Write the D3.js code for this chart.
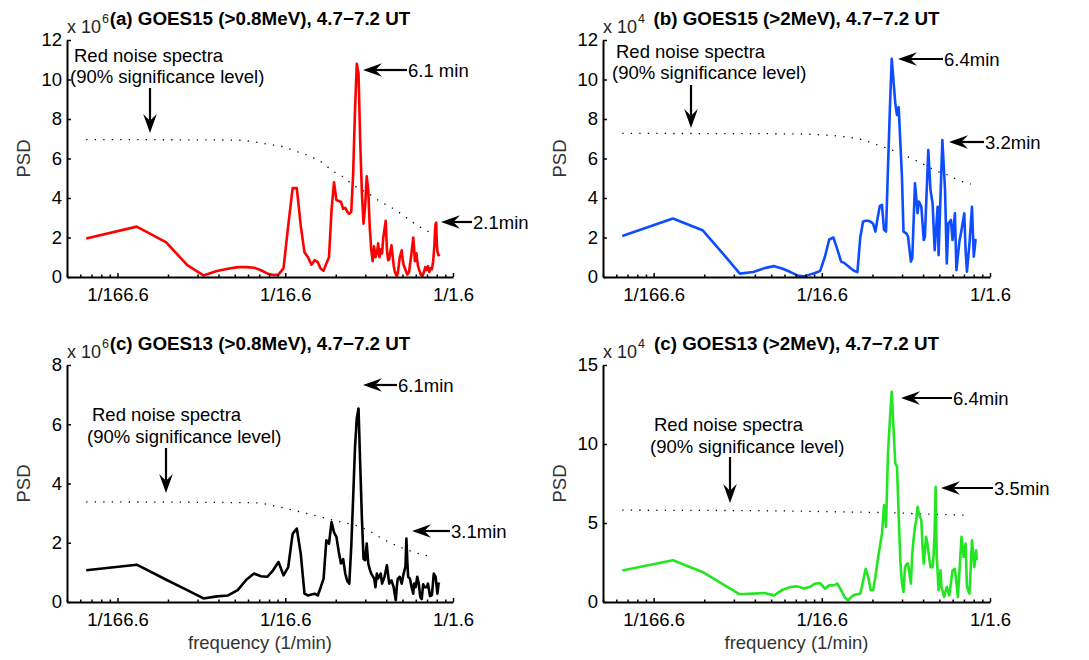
<!DOCTYPE html>
<html>
<head>
<meta charset="utf-8">
<script src="https://cdn.jsdelivr.net/npm/d3@7"></script>
<style>
body { margin: 0; background: #fff; }
text { font-family: "Liberation Sans", Arial, Helvetica, sans-serif; }
</style>
</head>
<body>
<svg id="chart" width="1089" height="660"></svg>
<script>
// frequency grid: harmonic k -> k / (256 * 60 s)  (1-min data, 256-pt FFT)
const DF = 1 / (256 * 60);

const xTickVals = [1e-4, 1e-3, 1e-2];
const xTickLabels = ["1/166.6", "1/16.6", "1/1.6"];

// (a) GOES15 >0.8MeV, x 10^6
const kA = [1, 2, 3, 4, 5, 6, 7, 8, 9, 10,
  11, 12, 13, 14, 15, 16, 17, 18, 19, 20,
  21, 22, 23, 24, 25, 26, 27, 28, 29, 30,
  31, 32, 33, 34, 35, 36, 37, 38, 39, 40,
  41, 42, 43, 44, 45, 46, 47, 48, 49, 50,
  51, 52, 53, 54, 55, 56, 57, 58, 59, 61,
  62, 63, 64, 65, 66, 67, 68, 69, 70, 71,
  72, 73, 74, 76, 77, 78, 79, 80, 82, 84,
  86, 88, 89, 90, 91, 92, 93, 94, 95, 97,
  99, 101, 103, 105, 107, 109, 111, 113, 115, 117,
  119, 120, 121, 122, 123, 124, 126, 128];
const psdA = [1.95, 2.55, 1.75, 0.6, 0.08, 0.3, 0.42, 0.5, 0.5, 0.47,
  0.34, 0.18, 0.1, 0.12, 0.45, 2.6, 4.5, 4.5, 2.6, 1.25,
  1.0, 0.62, 0.85, 0.75, 0.42, 0.32, 0.68, 1.0, 3.4, 4.8,
  3.9, 3.85, 3.8, 3.45, 3.5, 3.3, 3.2, 3.3, 5.2, 8.4,
  10.8, 10.3, 6.8, 4.2, 2.7, 3.6, 5.1, 4.4, 2.5, 1.4,
  0.8, 1.55, 1.0, 1.2, 1.7, 1.0, 1.4, 1.2, 2.0, 2.85,
  1.4, 0.85, 0.9, 1.3, 1.6, 1.1, 0.6, 0.3, 0.15, 0.05,
  0.2, 0.6, 1.0, 1.35, 0.9, 0.6, 0.5, 0.35, 0.12, 0.25,
  0.9, 1.6, 2.0, 1.5, 0.8, 0.9, 1.2, 0.85, 0.55, 0.3,
  0.1, 0.05, 0.25, 0.5, 0.35, 0.55, 0.25, 0.45, 0.4, 0.8,
  1.6, 2.3, 2.7, 2.75, 1.7, 1.3, 1.1, 1.15];
const rnKA = [1, 8, 10, 12, 15, 17, 20, 23, 26, 29, 34, 38, 44, 50, 57, 65, 75, 85, 97, 114];
const rnA = [6.96, 6.93, 6.84, 6.73, 6.59, 6.42, 6.22, 6.0, 5.75, 5.41, 5.07, 4.73, 4.39, 4.14, 3.8, 3.55, 3.21, 2.87, 2.54, 2.23];

// (b) GOES15 >2MeV, x 10^4
const kB = [1, 2, 3, 4, 5, 6, 7, 8, 9, 10,
  11, 12, 13, 14, 15, 16, 17, 18, 19, 20,
  21, 22, 23, 24, 25, 26, 27, 28, 29, 30,
  31, 32, 33, 34, 35, 36, 37, 38, 39, 40,
  42, 43, 44, 46, 47, 49, 50, 52, 53, 55,
  57, 58, 60, 62, 63, 66, 68, 70, 72, 75,
  76, 80, 83, 85, 87, 90, 92, 95, 97, 101,
  104, 108, 110, 112, 116, 120, 123, 126, 128];
const psdB = [2.08, 2.96, 2.37, 1.15, 0.17, 0.25, 0.45, 0.55, 0.42, 0.25,
  0.08, 0.03, 0.12, 0.2, 0.3, 1.0, 1.9, 2.0, 1.4, 0.78,
  0.7, 0.55, 0.42, 0.3, 0.25, 2.0, 2.8, 2.85, 2.85, 2.8,
  2.7, 2.3, 3.0, 3.6, 3.65, 2.4, 2.3, 5.5, 8.5, 11.05,
  8.8, 8.2, 8.6, 5.1, 2.3, 2.2, 2.05, 0.78, 0.95, 4.74,
  3.23, 3.82, 3.56, 1.87, 2.04, 6.43, 4.4, 3.73, 1.36, 3.56,
  1.11, 6.93, 4.4, 0.69, 2.72, 2.89, 1.87, 3.22, 0.35, 1.79,
  2.38, 3.22, 1.36, 0.27, 1.7, 3.56, 1.03, 1.87, 1.87];
const rnKB = [1, 10, 15, 21, 28, 33, 38, 44, 50, 58, 66, 76, 87, 100, 118];
const rnB = [7.27, 7.25, 7.2, 7.1, 6.9, 6.68, 6.5, 6.29, 6.08, 5.83, 5.58, 5.32, 5.15, 4.9, 4.7];

// (c) GOES13 >0.8MeV, x 10^6
const kC = [1, 2, 3, 4, 5, 6, 7, 8, 9, 10,
  11, 12, 13, 14, 15, 16, 17, 18, 19, 20,
  21, 22, 23, 24, 25, 26, 27, 28, 29, 30,
  31, 32, 33, 34, 35, 36, 37, 38, 39, 40,
  41, 42, 43, 44, 45, 46, 47, 48, 49, 50,
  52, 53, 54, 55, 57, 58, 60, 62, 64, 66,
  68, 70, 71, 72, 74, 76, 78, 80, 81, 82,
  83, 85, 87, 89, 90, 92, 94, 96, 98, 100,
  102, 104, 107, 109, 112, 115, 118, 121, 124, 126,
  128];
const psdC = [1.07, 1.26, 0.75, 0.4, 0.12, 0.19, 0.22, 0.4, 0.75, 0.96,
  0.87, 0.85, 1.07, 1.35, 0.9, 1.18, 2.3, 2.48, 1.63, 0.28,
  0.22, 0.25, 0.28, 0.22, 0.5, 0.79, 2.08, 1.97, 2.7, 2.35,
  2.2, 1.7, 1.3, 1.45, 0.96, 0.7, 0.62, 1.86, 3.5, 5.2,
  6.2, 6.53, 4.6, 2.8, 1.45, 1.41, 1.97, 1.3, 1.1, 0.96,
  0.8, 0.5, 0.96, 0.8, 0.96, 0.62, 0.85, 1.24, 0.62, 0.73,
  0.5, 0.06, 0.5, 0.79, 0.85, 0.62, 0.96, 1.2, 2.14, 1.4,
  0.85, 0.79, 0.5, 0.28, 0.62, 0.5, 0.85, 0.62, 0.17, 0.1,
  0.6, 0.5, 0.5, 0.62, 0.2, 0.23, 0.96, 0.85, 0.28, 0.62,
  0.6];
const rnKC = [1, 10, 14, 19, 25, 33, 40, 48, 58, 74, 89, 116];
const rnC = [3.38, 3.35, 3.21, 3.04, 2.87, 2.7, 2.59, 2.42, 2.14, 1.86, 1.69, 1.52];

// (c) GOES13 >2MeV, x 10^4
const kD = [1, 2, 3, 4, 5, 6, 7, 8, 9, 10,
  11, 12, 13, 14, 15, 16, 17, 18, 19, 20,
  21, 22, 23, 24, 25, 26, 27, 28, 29, 30,
  31, 32, 33, 34, 35, 36, 37, 38, 39, 40,
  41, 42, 43, 44, 45, 46, 47, 48, 49, 50,
  51, 52, 53, 54, 55, 56, 57, 58, 60, 61,
  62, 63, 64, 65, 66, 67, 68, 70, 71, 72,
  73, 74, 76, 78, 79, 82, 85, 88, 92, 95,
  99, 104, 107, 110, 112, 116, 120, 124, 127, 128];
const psdD = [2.0, 2.64, 1.9, 1.1, 0.49, 0.53, 0.57, 0.42, 0.78, 0.95,
  0.99, 0.85, 0.95, 1.16, 1.2, 0.85, 1.05, 1.05, 1.16, 0.75,
  0.3, 0.1, 0.32, 0.45, 0.49, 0.53, 1.3, 2.1, 1.58, 0.74,
  0.74, 1.6, 2.64, 3.5, 4.33, 6.13, 4.75, 9.4, 11.5, 13.3,
  11.0, 8.77, 8.56, 5.5, 2.64, 1.2, 0.63, 2.2, 2.4, 2.43,
  1.8, 1.16, 3.06, 4.0, 4.75, 5.2, 6.02, 5.6, 5.18, 3.5,
  2.43, 3.2, 4.12, 3.8, 3.27, 2.7, 2.2, 2.2, 3.0, 4.5,
  7.29, 3.0, 0.74, 2.0, 0.95, 0.32, 0.95, 0.42, 2.0, 2.1,
  0.32, 4.12, 2.85, 3.7, 0.95, 0.53, 3.9, 2.2, 3.27, 2.64];
const rnKD = [1, 8, 21, 42, 66, 118];
const rnD = [5.81, 5.77, 5.7, 5.64, 5.56, 5.49];

const FONT = 18.5;

// annotation positions are px inside each plot box
const panels = [
  {x0: 67, y0: 40, w: 386, h: 237, yMax: 12, yTicks: [0, 2, 4, 6, 8, 10, 12], exp: "6",
   color: "#ff0000", title: "(a) GOES15 (>0.8MeV), 4.7\u22127.2 UT",
   k: kA, psd: psdA, rnK: rnKA, rn: rnA, xlabel: false,
   rnText: [[7, 22], [3, 43]], down: [83, 48, 93],
   arrows: [[296, 30, 44, "6.1 min"], [374, 182, 31, "2.1min"]]},
  {x0: 603, y0: 40, w: 387, h: 237, yMax: 12, yTicks: [0, 2, 4, 6, 8, 10, 12], exp: "4",
   color: "#0d4dff", title: "(b) GOES15 (>2MeV), 4.7\u22127.2 UT",
   k: kB, psd: psdB, rnK: rnKB, rn: rnB, xlabel: false,
   rnText: [[13, 18], [9, 39]], down: [88, 45, 88],
   arrows: [[295, 19, 45, "6.4min"], [346, 102, 35, "3.2min"]]},
  {x0: 67, y0: 365, w: 386, h: 237, yMax: 8, yTicks: [0, 2, 4, 6, 8], exp: "6",
   color: "#000000", title: "(c) GOES13 (>0.8MeV), 4.7\u22127.2 UT",
   k: kC, psd: psdC, rnK: rnKC, rn: rnC, xlabel: true,
   rnText: [[25, 56], [20, 78]], down: [99, 83, 128],
   arrows: [[296, 20, 34, "6.1min"], [345, 166, 38, "3.1min"]]},
  {x0: 603, y0: 365, w: 387, h: 237, yMax: 15, yTicks: [0, 5, 10, 15], exp: "4",
   color: "#22e622", title: "(c) GOES13 (>2MeV), 4.7\u22127.2 UT",
   k: kD, psd: psdD, rnK: rnKD, rn: rnD, xlabel: true,
   rnText: [[51, 66], [47, 88]], down: [127, 92, 138],
   arrows: [[298, 33, 51, "6.4min"], [338, 123, 52, "3.5min"]]}
];

// minor log ticks like matlab
const minorTicks = [];
[1e-5, 1e-4, 1e-3].forEach(function(dec) {
  for (let m = 2; m <= 9; m++) {
    const v = m * dec;
    if (v >= 5e-5 && v <= 1e-2) minorTicks.push(v);
  }
});

const svg = d3.select("#chart");
svg.append("rect").attr("width", 1089).attr("height", 660).attr("fill", "#fff");

// filled arrow head + shaft, tip at (tx,ty), coming from (sx,sy)
function drawArrow(g, tx, ty, sx, sy) {
  const L = 19, W = 6.8;
  const ang = Math.atan2(ty - sy, tx - sx);
  const c = Math.cos(ang), s = Math.sin(ang);
  const pt = (a, b) => [tx - a * c - b * s, ty - a * s + b * c];
  const neck = pt(L * 0.65, 0);
  g.append("line")
    .attr("x1", sx).attr("y1", sy).attr("x2", neck[0]).attr("y2", neck[1])
    .attr("stroke", "#000").attr("stroke-width", 2.2);
  g.append("path")
    .attr("d", "M" + [[tx, ty], pt(L, -W), neck, pt(L, W)].map(p => p.join(",")).join("L") + "Z")
    .attr("fill", "#000");
}

panels.forEach(function(p) {
  const x = d3.scaleLog().domain([5e-5, 1e-2]).range([0, p.w]);
  const y = d3.scaleLinear().domain([0, p.yMax]).range([p.h, 0]);
  const g = svg.append("g").attr("transform", `translate(${p.x0},${p.y0})`);

  // red noise (dotted)
  const rnData = p.rnK.map((k, i) => ({f: k * DF, v: p.rn[i]}));
  g.append("path")
    .datum(rnData)
    .attr("d", d3.line().x(d => x(d.f)).y(d => y(d.v)).curve(d3.curveMonotoneX))
    .attr("fill", "none")
    .attr("stroke", "#000")
    .attr("stroke-width", 1.3)
    .attr("stroke-dasharray", "1.3,7.2");

  // spectrum
  const data = p.k.map((k, i) => ({f: k * DF, v: p.psd[i]}));
  g.append("path")
    .datum(data)
    .attr("d", d3.line().x(d => x(d.f)).y(d => y(d.v)))
    .attr("fill", "none")
    .attr("stroke", p.color)
    .attr("stroke-width", 2.6)
    .attr("stroke-linejoin", "round");

  // axes
  const xa = g.append("g").attr("transform", `translate(0,${p.h})`)
    .call(d3.axisBottom(x).tickValues(xTickVals).tickFormat((d, i) => xTickLabels[i])
      .tickSize(-4).tickSizeOuter(0).tickPadding(11));
  g.append("g").attr("transform", `translate(0,${p.h})`)
    .call(d3.axisBottom(x).tickValues(minorTicks).tickFormat("").tickSize(-2.5))
    .call(a => a.select(".domain").remove())
    .selectAll("line").attr("stroke-width", 1.5);
  const ya = g.append("g")
    .call(d3.axisLeft(y).tickValues(p.yTicks).tickSize(-4).tickSizeOuter(0).tickPadding(5));

  [xa, ya].forEach(function(a) {
    a.select(".domain").attr("stroke-width", 2);
    a.selectAll(".tick line").attr("stroke-width", 1.5);
    a.selectAll("text").attr("font-size", FONT).attr("fill", "#000")
      .attr("font-family", '"Liberation Sans", Arial, sans-serif');
  });

  // exponent, title
  const ex = g.append("text").attr("x", 0).attr("y", -7)
    .attr("font-size", 18).attr("fill", "#222");
  ex.append("tspan").text("x 10");
  ex.append("tspan").attr("font-size", 12.5).attr("dy", -10).attr("dx", 1).text(p.exp);

  g.append("text").attr("x", p.w / 2).attr("y", -15)
    .attr("text-anchor", "middle").attr("font-size", 18.8).attr("font-weight", "bold")
    .text(p.title);

  g.append("text")
    .attr("transform", `translate(-37,${p.h / 2}) rotate(-90)`)
    .attr("text-anchor", "middle").attr("font-size", FONT).attr("fill", "#333")
    .text("PSD");

  if (p.xlabel) {
    g.append("text").attr("x", p.w / 2).attr("y", p.h + 47)
      .attr("text-anchor", "middle").attr("font-size", FONT).attr("fill", "#333")
      .text("frequency (1/min)");
  }

  // annotations
  g.append("text").attr("x", p.rnText[0][0]).attr("y", p.rnText[0][1])
    .attr("font-size", FONT).text("Red noise spectra");
  g.append("text").attr("x", p.rnText[1][0]).attr("y", p.rnText[1][1])
    .attr("font-size", FONT).text("(90% significance level)");
  drawArrow(g, p.down[0], p.down[2], p.down[0], p.down[1]);

  p.arrows.forEach(function(a) {
    drawArrow(g, a[0], a[1], a[0] + a[2], a[1]);
    g.append("text").attr("x", a[0] + a[2] + 1).attr("y", a[1]).attr("dy", "0.36em")
      .attr("font-size", FONT).text(a[3]);
  });
});
</script>
</body>
</html>
